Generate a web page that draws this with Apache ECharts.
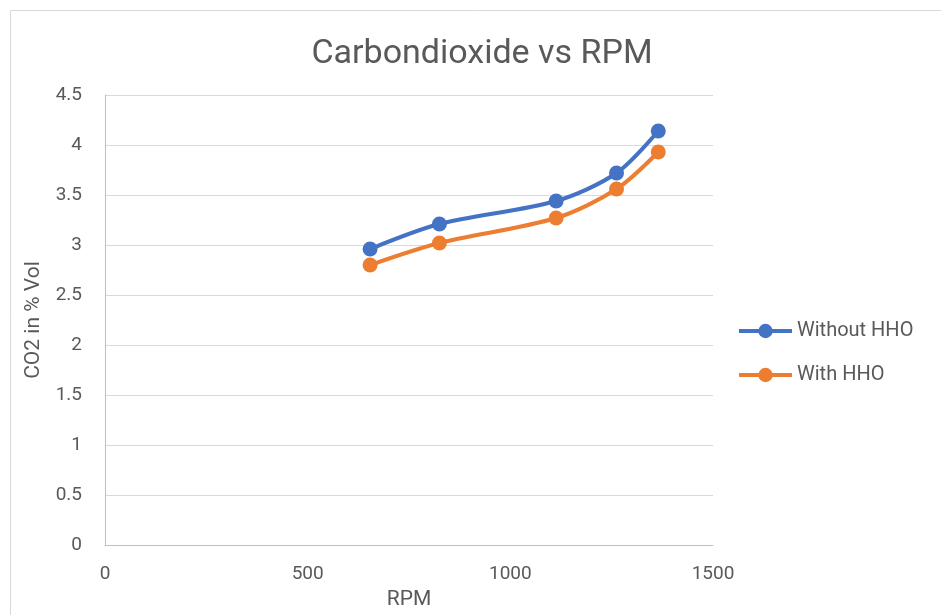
<!DOCTYPE html>
<html>
<head>
<meta charset="utf-8">
<script src="https://cdn.jsdelivr.net/npm/echarts@6/dist/echarts.min.js"></script>
<style>
html,body{margin:0;padding:0;background:#fff;}
#chart{width:941px;height:615px;}
</style>
</head>
<body>
<div id="chart"></div>
<script>
var rpm = [654, 825, 1113, 1262, 1365];
var withoutHHO = [2.96, 3.21, 3.44, 3.72, 4.14];
var withHHO = [2.80, 3.02, 3.27, 3.56, 3.93];
var seriesNames = ['Without HHO', 'With HHO'];
var titleText = 'Carbondioxide vs RPM';
var xName = 'RPM';
var yName = 'CO2 in % Vol';

var FONT = 'Roboto, sans-serif';
var TXT = '#595959';

function pairs(xs, ys) { return xs.map(function (x, i) { return [x, ys[i]]; }); }

var el = document.getElementById('chart');
var chart = echarts.init(el, null, {renderer: 'canvas'});
chart.setOption({
  animation: false,
  backgroundColor: '#fff',
  graphic: [{
    type: 'rect', shape: {x: 10.5, y: 10.5, width: 1000, height: 700},
    style: {fill: 'none', stroke: '#d9d9d9', lineWidth: 1}, silent: true, z: -10
  }, {
    type: 'text', z: 10,
    style: {text: titleText, x: 482, y: 54, align: 'center', verticalAlign: 'middle',
             fontFamily: FONT, fontSize: 34, fill: TXT}
  }],
  legend: {
    orient: 'vertical', left: 732, top: 316, itemGap: 24,
    itemWidth: 53, itemHeight: 18,
    lineStyle: {width: 4},
    textStyle: {fontFamily: FONT, fontSize: 20, color: TXT},
    data: seriesNames
  },
  grid: {left: 105, right: 228, top: 95, bottom: 67, containLabel: false},
  xAxis: {
    type: 'value', min: 0, max: 1500, interval: 500,
    name: xName, nameLocation: 'middle', nameGap: 41,
    nameTextStyle: {fontFamily: FONT, fontSize: 21, color: TXT},
    axisLine: {show: true, lineStyle: {color: '#bfbfbf', width: 1}},
    axisTick: {show: false},
    axisLabel: {fontFamily: FONT, fontSize: 19, color: TXT, margin: 20, formatter: function (v) { return String(v); }},
    splitLine: {show: false}
  },
  yAxis: {
    type: 'value', min: 0, max: 4.5, interval: 0.5,
    name: yName, nameLocation: 'middle', nameGap: 60, nameRotate: 90,
    nameTextStyle: {fontFamily: FONT, fontSize: 21, color: TXT},
    axisLine: {show: true, lineStyle: {color: '#bfbfbf', width: 1}},
    axisTick: {show: false},
    axisLabel: {fontFamily: FONT, fontSize: 19, color: TXT, margin: 23},
    splitLine: {show: true, lineStyle: {color: '#d9d9d9', width: 1}}
  },
  series: [{
    name: seriesNames[0], type: 'line', data: pairs(rpm, withoutHHO),
    smooth: 0.3, symbol: 'circle', symbolSize: 15,
    lineStyle: {color: '#4472c4', width: 4},
    itemStyle: {color: '#4472c4'}
  }, {
    name: seriesNames[1], type: 'line', data: pairs(rpm, withHHO),
    smooth: 0.3, symbol: 'circle', symbolSize: 15,
    lineStyle: {color: '#ed7d31', width: 4},
    itemStyle: {color: '#ed7d31'}
  }]
});
</script>
</body>
</html>
